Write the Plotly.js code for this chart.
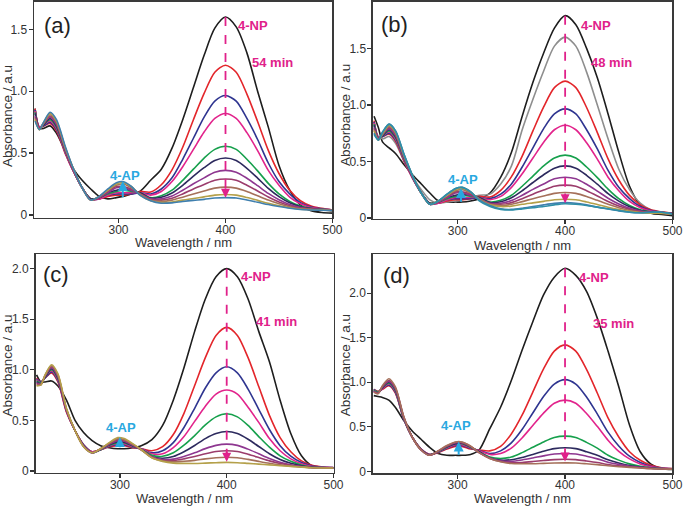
<!DOCTYPE html>
<html>
<head>
<meta charset="utf-8">
<script src="https://cdn.plot.ly/plotly-3.0.1.min.js"></script>
<style>
  body { margin: 0; background: #fff; }
  #plot { width: 683px; height: 508px; }
</style>
</head>
<body>
<div id="plot"></div>
<script>
// wavelength grid (nm) shared by every spectrum
var wavelength = [222, 226, 230, 236, 242, 250, 258, 266, 274, 282, 290, 298, 304, 312, 320,
  330, 340, 350, 360, 370, 380, 390, 400, 410, 420, 430, 440, 450, 460, 470, 480, 490, 500];

// (a) 54 min
var aBlack = [.86,.70,.70,.72,.66,.52,.37,.28,.21,.15,.13,.14,.15,.17,.19, .28,.37,.54,.77,1.03,1.29,1.51,1.60,1.52,1.31,1.00,.71,.40,.20,.08,.035,.02,.015];
var aRed = [.86,.71,.72,.74,.68,.50,.35,.22,.13,.13,.15,.16,.16,.17,.19, .185,.244,.365,.547,.77,.982,1.153,1.21,1.153,.977,.755,.522,.335,.199,.115,.072,.053,.04];
var aBlue = [.85,.71,.72,.75,.69,.51,.35,.22,.13,.13,.16,.17,.17,.17,.18, .17,.21,.30,.45,.62,.79,.92,.965,.92,.78,.61,.42,.27,.17,.10,.065,.05,.04];
var aMagenta = [.84,.71,.73,.76,.70,.51,.35,.22,.13,.13,.16,.18,.18,.18,.18, .16,.19,.27,.39,.53,.67,.78,.82,.78,.665,.52,.36,.24,.145,.09,.06,.048,.038];
var aGreen = [.83,.70,.73,.77,.71,.52,.36,.22,.13,.14,.17,.19,.20,.19,.18, .14,.155,.20,.28,.37,.46,.53,.555,.53,.45,.356,.255,.17,.11,.072,.054,.045,.037];
var aNavy = [.82,.70,.73,.78,.72,.53,.36,.22,.13,.14,.18,.20,.21,.20,.18, .136,.143,.178,.24,.313,.382,.44,.46,.44,.377,.298,.215,.148,.098,.066,.051,.044,.036];
var aPurple = [.80,.70,.74,.79,.73,.53,.36,.22,.12,.14,.18,.22,.22,.20,.17, .13,.13,.153,.20,.252,.30,.346,.36,.346,.297,.237,.174,.123,.084,.06,.048,.043,.036];
var aPlum = [.79,.70,.74,.80,.74,.54,.36,.22,.12,.14,.19,.23,.23,.21,.17, .125,.12,.135,.17,.21,.246,.28,.29,.28,.24,.194,.145,.105,.075,.055,.046,.042,.036];
var aBrown = [.78,.69,.74,.81,.75,.55,.37,.22,.12,.15,.20,.24,.25,.22,.17, .12,.11,.12,.144,.17,.194,.217,.225,.217,.19,.155,.12,.09,.066,.05,.045,.041,.035];
var aTan = [.77,.69,.75,.82,.76,.55,.37,.22,.12,.15,.20,.25,.26,.23,.16, .115,.10,.104,.12,.133,.146,.16,.165,.16,.141,.118,.094,.074,.058,.046,.042,.04,.035];
var aSteel = [.76,.69,.75,.83,.77,.56,.37,.22,.12,.15,.21,.26,.27,.23,.16, .115,.095,.098,.109,.118,.126,.137,.14,.137,.121,.103,.084,.068,.054,.044,.04,.038,.035];

// (b) 48 min -- the middle curves read the same as in (a)
var bBlack = [.90,.80,.67,.62,.57,.47,.38,.30,.22,.15,.14,.14,.14,.15,.17, .22,.36,.58,.90,1.20,1.46,1.68,1.79,1.71,1.50,1.24,.92,.58,.28,.11,.04,.03,.02];
var bGray = [.85,.72,.70,.72,.66,.50,.36,.25,.16,.13,.14,.15,.16,.18,.20, .21,.30,.46,.78,1.05,1.30,1.52,1.60,1.52,1.29,1.00,.70,.43,.25,.13,.07,.05,.04];
var bSteel = [.75,.69,.76,.83,.77,.56,.37,.22,.12,.15,.21,.26,.27,.23,.16, .11,.08,.075,.085,.10,.115,.128,.135,.13,.115,.095,.078,.062,.05,.045,.05,.05,.035];
var bTeal = [.74,.69,.76,.83,.77,.56,.37,.22,.12,.15,.21,.26,.27,.23,.15, .10,.075,.07,.08,.09,.10,.115,.125,.12,.11,.095,.08,.065,.05,.045,.05,.05,.035];

// (c) 41 min
var cBlack = [.95,.88,.88,.89,.84,.70,.50,.38,.30,.25,.23,.22,.22,.23,.25, .31,.45,.70,1.02,1.38,1.70,1.92,2.00,1.92,1.70,1.38,1.08,.70,.37,.15,.05,.035,.03];
var cRed = [.92,.88,.92,.97,.88,.58,.40,.26,.19,.21,.24,.25,.25,.23,.22, .20,.24,.36,.57,.845,1.12,1.34,1.42,1.34,1.12,.835,.55,.33,.19,.10,.057,.04,.034];
var cBlue = [.91,.88,.92,.98,.89,.59,.40,.26,.19,.21,.245,.26,.26,.235,.22, .18,.20,.28,.43,.62,.82,.97,1.03,.97,.81,.61,.41,.25,.146,.083,.05,.038,.033];
var cMagenta = [.90,.87,.93,.99,.90,.59,.40,.25,.19,.21,.25,.27,.27,.24,.22, .17,.17,.23,.34,.49,.64,.76,.80,.76,.63,.48,.32,.20,.12,.072,.045,.036,.032];
var cGreen = [.89,.87,.93,1.0,.91,.60,.40,.25,.18,.21,.255,.28,.28,.245,.215, .155,.145,.18,.255,.35,.455,.535,.565,.535,.45,.34,.235,.15,.095,.06,.04,.034,.031];
var cNavy = [.88,.86,.93,1.01,.92,.60,.40,.25,.18,.215,.26,.29,.285,.25,.215, .14,.126,.143,.19,.252,.32,.37,.39,.37,.314,.242,.17,.113,.076,.051,.036,.032,.03];
var cPurple = [.87,.86,.94,1.02,.93,.60,.40,.25,.18,.215,.265,.30,.295,.255,.21, .14,.112,.117,.144,.18,.221,.253,.265,.253,.216,.17,.124,.087,.062,.045,.034,.031,.03];
var cPlum = [.86,.86,.94,1.03,.94,.61,.40,.245,.18,.22,.27,.31,.30,.26,.21, .135,.105,.103,.12,.143,.17,.192,.20,.192,.165,.133,.10,.073,.055,.042,.033,.03,.03];
var cBrown = [.85,.85,.95,1.04,.95,.61,.40,.24,.18,.22,.275,.32,.31,.265,.21, .13,.098,.09,.096,.105,.12,.131,.135,.131,.115,.095,.076,.06,.048,.04,.032,.03,.03];
var cTan = [.84,.85,.95,1.05,.96,.62,.40,.24,.18,.22,.28,.33,.32,.27,.21, .13,.095,.078,.075,.074,.078,.082,.085,.082,.075,.068,.06,.052,.045,.038,.032,.03,.03];

// (d) 35 min
var dBlack = [.85,.84,.83,.80,.72,.57,.45,.36,.27,.20,.18,.18,.18,.19,.24, .48,.72,1.02,1.36,1.68,1.98,2.18,2.28,2.20,2.02,1.72,1.35,.95,.52,.22,.08,.03,.02];
var dRed = [.92,.90,.92,.96,.88,.58,.38,.25,.19,.21,.25,.28,.28,.25,.24, .23,.28,.42,.63,.89,1.15,1.35,1.42,1.35,1.145,.88,.60,.385,.22,.124,.068,.04,.03];
var dBlue = [.92,.89,.93,.97,.89,.58,.38,.25,.19,.215,.26,.29,.29,.26,.235, .20,.23,.32,.47,.655,.84,.98,1.03,.98,.835,.645,.44,.285,.17,.10,.057,.036,.029];
var dMagenta = [.91,.89,.93,.98,.90,.59,.38,.25,.19,.22,.265,.30,.30,.265,.23, .19,.20,.26,.375,.515,.654,.764,.80,.764,.65,.505,.35,.225,.14,.083,.05,.033,.028];
var dGreen = [.91,.89,.94,.99,.91,.59,.38,.245,.185,.22,.27,.31,.31,.27,.22, .16,.144,.16,.21,.27,.33,.38,.395,.38,.325,.26,.18,.126,.084,.056,.04,.03,.027];
var dNavy = [.90,.88,.94,1.0,.92,.60,.38,.245,.185,.225,.275,.31,.315,.275,.22, .15,.126,.13,.155,.19,.226,.255,.265,.255,.22,.18,.13,.094,.066,.048,.036,.028,.026];
var dPurple = [.90,.88,.95,1.01,.93,.60,.38,.24,.18,.225,.28,.32,.32,.28,.21, .15,.118,.113,.128,.15,.174,.194,.20,.194,.17,.14,.103,.078,.058,.044,.034,.028,.026];
var dPlum = [.89,.88,.95,1.02,.94,.61,.38,.24,.18,.23,.285,.325,.325,.28,.21, .145,.11,.096,.10,.11,.122,.132,.135,.132,.117,.10,.077,.061,.049,.04,.032,.027,.025];
var dBrown = [.89,.87,.96,1.04,.95,.61,.38,.24,.18,.23,.29,.33,.33,.285,.21, .145,.108,.088,.085,.085,.09,.094,.095,.094,.085,.075,.062,.052,.045,.038,.031,.027,.025];

// labels
var panelLetters = ["(a)", "(b)", "(c)", "(d)"];
var reactionTimes = ["54 min", "48 min", "41 min", "35 min"];
var xTicks = [300, 400, 500];
var yTicksLow = [0, 0.5, 1.0, 1.5];
var yTicksHigh = [0, 0.5, 1.0, 1.5, 2.0];

var col = {
  black: "#1e1e1e", gray: "#8e8e8e", red: "#e3262b", blue: "#2f3590", magenta: "#e2248c",
  green: "#16a04c", navy: "#2d2a5e", purple: "#8e3790", plum: "#9b3c6c", brown: "#a5705a",
  tan: "#b4a04a", steel: "#3f7fae", teal: "#2f8fa8"
};
var npColor = "#e0218a";
var apColor = "#29a8e0";
var font = "Liberation Sans, Arial, sans-serif";

var panels = [
  {xa: "x", ya: "y", curves: [[aBlack, col.black], [aRed, col.red], [aBlue, col.blue], [aMagenta, col.magenta], [aGreen, col.green], [aNavy, col.navy], [aPurple, col.purple], [aPlum, col.plum], [aBrown, col.brown], [aTan, col.tan], [aSteel, col.steel]]},
  {xa: "x2", ya: "y2", curves: [[bBlack, col.black], [bGray, col.gray], [aRed, col.red], [aBlue, col.blue], [aMagenta, col.magenta], [aGreen, col.green], [aNavy, col.navy], [aPurple, col.purple], [aPlum, col.plum], [aBrown, col.brown], [aTan, col.tan], [bSteel, col.steel], [bTeal, col.teal]]},
  {xa: "x3", ya: "y3", curves: [[cBlack, col.black], [cRed, col.red], [cBlue, col.blue], [cMagenta, col.magenta], [cGreen, col.green], [cNavy, col.navy], [cPurple, col.purple], [cPlum, col.plum], [cBrown, col.brown], [cTan, col.tan]]},
  {xa: "x4", ya: "y4", curves: [[dBlack, col.black], [dRed, col.red], [dBlue, col.blue], [dMagenta, col.magenta], [dGreen, col.green], [dNavy, col.navy], [dPurple, col.purple], [dPlum, col.plum], [dBrown, col.brown]]}
];

var traces = [];
panels.forEach(function (p) {
  p.curves.forEach(function (c) {
    traces.push({
      x: wavelength, y: c[0], xaxis: p.xa, yaxis: p.ya,
      type: "scatter", mode: "lines", hoverinfo: "skip",
      line: {color: c[1], width: 1.6, shape: "spline", smoothing: 0.8}
    });
  });
});

function xAxis(domain, anchor) {
  return {
    domain: domain, anchor: anchor, range: [221, 500],
    tickvals: xTicks, ticktext: xTicks.map(String),
    ticks: "outside", ticklen: 4, tickwidth: 1.3, tickcolor: "#333", ticklabelstandoff: -4,
    showline: true, linecolor: "#3a3a3a", linewidth: 1.5, mirror: true,
    showgrid: false, zeroline: false, automargin: false,
    tickfont: {family: font, size: 12, color: "#333"}
  };
}
function yAxis(domain, anchor, range, ticks) {
  return {
    domain: domain, anchor: anchor, range: range,
    tickvals: ticks, ticktext: ticks.map(function (v) { return v === 0 ? "0" : v.toFixed(1); }),
    ticks: "outside", ticklen: 4, tickwidth: 1.3, tickcolor: "#333", ticklabelstandoff: -1,
    showline: true, linecolor: "#3a3a3a", linewidth: 1.5, mirror: true,
    showgrid: false, zeroline: false, automargin: false,
    tickfont: {family: font, size: 12, color: "#333"}
  };
}

// arrow positions per panel: [xa, ya, nmTop, nmBottom, apX, apFrom, apTo]
var arrows = [
  ["x", "y", 1.60, 0.14, 304, 0.13, 0.275],
  ["x2", "y2", 1.79, 0.13, 303, 0.13, 0.265],
  ["x3", "y3", 2.00, 0.09, 300, 0.22, 0.335],
  ["x4", "y4", 2.28, 0.11, 301, 0.17, 0.335]
];
// text spots per panel: [letterX, letterY, npX, npY, timeX, timeY, apX, apY]
var textSpots = [
  [243, 1.53, 425.5, 1.535, 443.7, 1.231, 306.2, 0.32],
  [241, 1.713, 428.3, 1.704, 443, 1.374, 304.4, 0.336],
  [240, 1.947, 427.7, 1.92, 446.7, 1.475, 300.7, 0.425],
  [243, 2.20, 427.1, 2.173, 445.1, 1.665, 298.6, 0.52]
];

var shapes = [];
var annotations = [];
function label(xr, yr, x, y, text, size, color) {
  return {xref: xr, yref: yr, x: x, y: y, text: text, showarrow: false,
    xanchor: "center", yanchor: "middle", font: {family: font, size: size, color: color}};
}
arrows.forEach(function (a, i) {
  var span = a[2] - a[3];
  shapes.push({type: "line", xref: a[0], yref: a[1], x0: 400, x1: 400, y0: a[2], y1: a[3] + span * 0.03,
    line: {color: npColor, width: 1.8, dash: "dash"}});
  annotations.push({xref: a[0], yref: a[1], axref: a[0], ayref: a[1], x: 400, y: a[3], ax: 400, ay: a[3] + span * 0.06,
    text: "", showarrow: true, arrowhead: 2, arrowsize: 1, arrowwidth: 1.8, arrowcolor: npColor});
  annotations.push({xref: a[0], yref: a[1], axref: a[0], ayref: a[1], x: a[4], y: a[6], ax: a[4], ay: a[5],
    text: "", showarrow: true, arrowhead: 2, arrowsize: 1, arrowwidth: 2, arrowcolor: apColor});
  var t = textSpots[i];
  annotations.push(label(a[0], a[1], t[0], t[1], panelLetters[i], 22, "#222"));
  annotations.push(label(a[0], a[1], t[2], t[3], "<b>4-NP</b>", 13, npColor));
  annotations.push(label(a[0], a[1], t[4], t[5], "<b>" + reactionTimes[i] + "</b>", 13, npColor));
  annotations.push(label(a[0], a[1], t[6], t[7], "<b>4-AP</b>", 13, apColor));
});

// axis titles placed in paper space
var xTitleSpots = [[0.268, 0.5236], [0.7654, 0.5177], [0.270, 0.019], [0.7654, 0.019]];
var yTitleSpots = [[0.0117, 0.7717], [0.505, 0.7736], [0.0117, 0.2805], [0.505, 0.281]];
xTitleSpots.forEach(function (s) {
  annotations.push(label("paper", "paper", s[0], s[1], "Wavelength / nm", 13, "#333"));
});
yTitleSpots.forEach(function (s) {
  var t = label("paper", "paper", s[0], s[1], "Absorbance / a.u", 13.5, "#333");
  t.textangle = -90;
  annotations.push(t);
});

var layout = {
  width: 683, height: 508,
  margin: {l: 0, r: 0, t: 0, b: 0},
  paper_bgcolor: "#fff", plot_bgcolor: "#fff",
  showlegend: false,
  xaxis: xAxis([0.0498, 0.4868], "y"),
  yaxis: yAxis([0.5715, 0.997], "x", [-0.022, 1.725], yTicksLow),
  xaxis2: xAxis([0.5461, 0.9846], "y2"),
  yaxis2: yAxis([0.5689, 0.997], "x2", [-0.01, 1.915], yTicksLow),
  xaxis3: xAxis([0.052, 0.4883], "y3"),
  yaxis3: yAxis([0.0695, 0.5], "x3", [-0.017, 2.145], yTicksHigh),
  xaxis4: xAxis([0.5457, 0.9846], "y4"),
  yaxis4: yAxis([0.0683, 0.5], "x4", [-0.022, 2.44], yTicksHigh),
  shapes: shapes,
  annotations: annotations
};

Plotly.newPlot("plot", traces, layout, {staticPlot: true});
</script>
</body>
</html>
